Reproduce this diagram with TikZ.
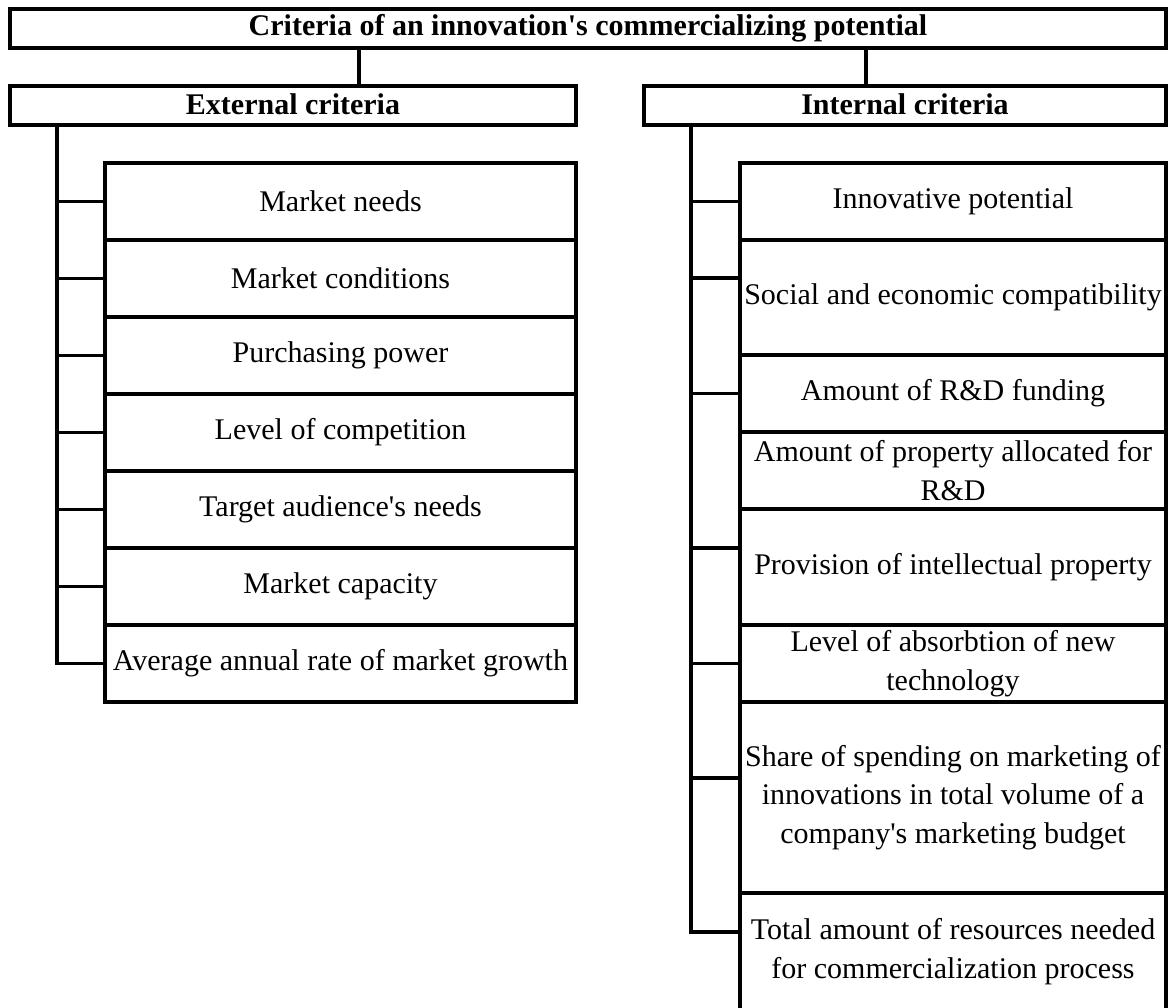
\documentclass[tikz,border=0pt]{standalone}
\usepackage{fontspec}
\newfontfamily\lserif{Liberation Serif}
\begin{document}
\begin{tikzpicture}[x=1pt,y=-1pt,
  box/.style={draw, line width=3.2pt, inner sep=0pt, outer sep=0pt, align=center,
    font=\lserif\fontsize{30}{38.5}\selectfont},
  head/.style={box, font=\lserif\bfseries\fontsize{30}{38.5}\selectfont},
  lbox/.style={box, minimum width=471pt, minimum height=77pt},
  conn/.style={line width=3.2pt}]
\useasboundingbox (0,0) rectangle (1175,1008);
% headers
\node[head, minimum width=1156pt, minimum height=39pt] (title) at (588,28.5) {\raisebox{1.5pt}{Criteria of an innovation's commercializing potential}};
\node[head, minimum width=566pt, minimum height=39pt] (ext) at (293,105.5) {\raisebox{3pt}{External criteria}};
\node[head, minimum width=522pt, minimum height=39pt] (int) at (905,105.5) {\raisebox{3pt}{Internal criteria}};
\coordinate (cL) at (359,0);
\coordinate (cR) at (866,0);
\draw[conn] (title.south -| cL) -- (ext.north -| cL);
\draw[conn] (title.south -| cR) -- (int.north -| cR);
% left boxes
\node[lbox] (L1) at (340.5,201.5) {Market needs};
\node[lbox] (L2) at (340.5,278.5) {Market conditions};
\node[lbox] (L3) at (340.5,355.5) {Purchasing power};
\node[lbox] (L4) at (340.5,432.5) {Level of competition};
\node[lbox] (L5) at (340.5,509.5) {Target audience's needs};
\node[lbox] (L6) at (340.5,586.5) {Market capacity};
\node[lbox] (L7) at (340.5,663.5) {Average annual rate of market growth};
\coordinate (lx) at (57,0);
\draw[conn] (ext.south -| lx) -- (L7.west -| lx) -- (L7.west);
\foreach \n in {L1,L2,L3,L4,L5,L6} \draw[conn] (\n.west -| lx) -- (\n.west);
% right boxes
\node[box, minimum width=426pt, minimum height=77pt] (R1) at (953,201.5) {Innovative potential};
\node[box, minimum width=426pt, minimum height=115pt] (R2) at (953,297.5) {Social and economic compatibility};
\node[box, minimum width=426pt, minimum height=77pt] (R3) at (953,393.5) {Amount of R\&D funding};
\node[box, minimum width=426pt, minimum height=77pt] (R4) at (953,470.5) {Amount of property allocated for\\R\&D};
\node[box, minimum width=426pt, minimum height=116pt] (R5) at (953,567) {Provision of intellectual property};
\node[box, minimum width=426pt, minimum height=77pt] (R6) at (953,663.5) {Level of absorbtion of new\\technology};
\node[box, minimum width=426pt, minimum height=191pt] (R7) at (953,797.5) {Share of spending on marketing of\\innovations in total volume of a\\company's marketing budget};
\node[box, minimum width=426pt, minimum height=117pt] (R8) at (953,951.5) {Total amount of resources needed\\for commercialization process};
\coordinate (rx) at (691,0);
\coordinate (t2) at ([yshift=19.5pt]R2.west);
\coordinate (t5) at ([yshift=19pt]R5.west);
\coordinate (t7) at ([yshift=19.5pt]R7.west);
\coordinate (t8) at ([yshift=19.5pt]R8.west);
\draw[conn] (int.south -| rx) -- (t8 -| rx) -- (t8);
\draw[conn] (R1.west -| rx) -- (R1.west);
\draw[conn] (t2 -| rx) -- (t2);
\draw[conn] (R3.west -| rx) -- (R3.west);
\draw[conn] (t5 -| rx) -- (t5);
\draw[conn] (R6.west -| rx) -- (R6.west);
\draw[conn] (t7 -| rx) -- (t7);
\end{tikzpicture}
\end{document}
